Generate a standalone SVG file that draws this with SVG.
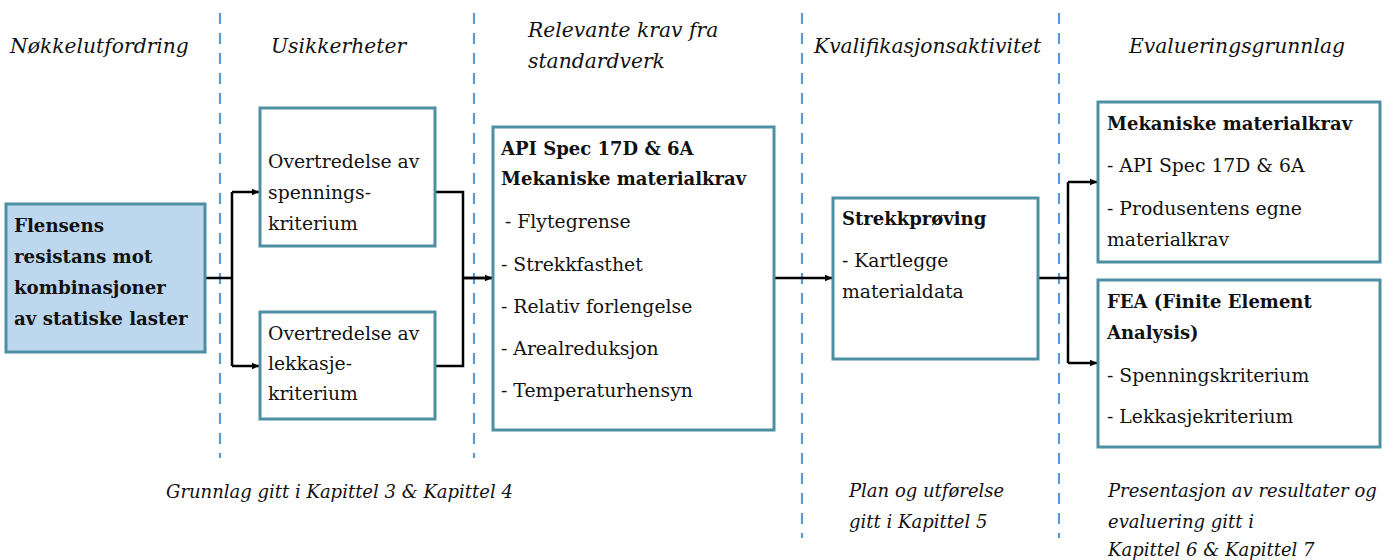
<svg xmlns="http://www.w3.org/2000/svg" width="1397" height="560" viewBox="0 0 1397 560">
<defs>
<marker id="arr" markerWidth="8" markerHeight="8" refX="7" refY="4" orient="auto" markerUnits="userSpaceOnUse">
<path d="M0,0.8 L7.5,4 L0,7.2 Z" fill="#000"/>
</marker>
<style>
.box{fill:#fff;stroke:#4f8fa3;stroke-width:3}
.key{fill:#bdd7ee;stroke:#4f8fa3;stroke-width:3}
.sep{stroke:#5b9bd5;stroke-width:2.2;stroke-dasharray:11 9;fill:none}
.con{stroke:#000;stroke-width:2.5;fill:none}
.h{font-family:"DejaVu Serif",serif;font-style:italic;font-size:20.3px;fill:#111}
.n{font-family:"DejaVu Serif",serif;font-size:18.8px;fill:#111}
.b{font-family:"DejaVu Serif",serif;font-weight:bold;font-size:18px;fill:#111}
.kb{font-family:"DejaVu Serif",serif;font-weight:bold;font-size:18.2px;fill:#111}
.f{font-family:"DejaVu Serif",serif;font-style:italic;font-size:18px;fill:#111}
</style>
</defs>
<rect width="1397" height="560" fill="#fff"/>
<g id="separators">
<line class="sep" x1="220" y1="13" x2="220" y2="458"/>
<line class="sep" x1="474" y1="13" x2="474" y2="458"/>
<line class="sep" x1="802" y1="13" x2="802" y2="538"/>
<line class="sep" x1="1059" y1="13" x2="1059" y2="538"/>
</g>
<g id="headings">
<text class="h" x="10" y="53">Nøkkelutfordring</text>
<text class="h" x="271" y="53">Usikkerheter</text>
<text class="h" x="528" y="37">Relevante krav fra</text>
<text class="h" x="528" y="68">standardverk</text>
<text class="h" x="814" y="53">Kvalifikasjonsaktivitet</text>
<text class="h" x="1129" y="53">Evalueringsgrunnlag</text>
</g>
<g id="footers">
<text class="f" x="166" y="498">Grunnlag gitt i Kapittel 3 &amp; Kapittel 4</text>
<text class="f" x="849" y="497">Plan og utførelse</text>
<text class="f" x="849" y="528">gitt i Kapittel 5</text>
<text class="f" x="1108" y="497">Presentasjon av resultater og</text>
<text class="f" x="1108" y="528">evaluering gitt i</text>
<text class="f" x="1108" y="556">Kapittel 6 &amp; Kapittel 7</text>
</g>
<g id="connectors">
<path class="con" d="M205,278 H232 M232,192 V366"/>
<path class="con" d="M232,192 H259" marker-end="url(#arr)"/>
<path class="con" d="M232,366 H259" marker-end="url(#arr)"/>
<path class="con" d="M435,192 H463 V366 H435 M463,278 H492"/>
<path class="con" d="M463,278 H492" marker-end="url(#arr)"/>
<path class="con" d="M774,278 H832" marker-end="url(#arr)"/>
<path class="con" d="M1038,278 H1068 M1068,182 V363"/>
<path class="con" d="M1068,182 H1097" marker-end="url(#arr)"/>
<path class="con" d="M1068,363 H1097" marker-end="url(#arr)"/>
</g>
<g id="n-flensens">
<rect class="key" x="6" y="204" width="199" height="148"/>
<text class="kb" x="14" y="232">Flensens</text>
<text class="kb" x="14" y="263">resistans mot</text>
<text class="kb" x="14" y="294">kombinasjoner</text>
<text class="kb" x="14" y="325">av statiske laster</text>
</g>
<g id="n-spenning">
<rect class="box" x="260" y="108" width="175" height="138"/>
<text class="n" x="268" y="168">Overtredelse av</text>
<text class="n" x="268" y="199">spennings-</text>
<text class="n" x="268" y="230">kriterium</text>
</g>
<g id="n-lekkasje">
<rect class="box" x="260" y="312" width="175" height="107"/>
<text class="n" x="268" y="340">Overtredelse av</text>
<text class="n" x="268" y="370">lekkasje-</text>
<text class="n" x="268" y="400">kriterium</text>
</g>
<g id="n-api">
<rect class="box" x="493" y="127" width="281" height="303"/>
<text class="b" x="501" y="155">API Spec 17D &amp; 6A</text>
<text class="b" x="501" y="185">Mekaniske materialkrav</text>
<text class="n" x="505" y="228">- Flytegrense</text>
<text class="n" x="501" y="271">- Strekkfasthet</text>
<text class="n" x="501" y="313">- Relativ forlengelse</text>
<text class="n" x="501" y="355">- Arealreduksjon</text>
<text class="n" x="501" y="397">- Temperaturhensyn</text>
</g>
<g id="n-strekk">
<rect class="box" x="833" y="198" width="205" height="161"/>
<text class="b" x="842" y="225">Strekkprøving</text>
<text class="n" x="842" y="267">- Kartlegge</text>
<text class="n" x="842" y="298">materialdata</text>
</g>
<g id="n-mek">
<rect class="box" x="1098" y="102" width="282" height="160"/>
<text class="b" x="1107" y="130">Mekaniske materialkrav</text>
<text class="n" x="1107" y="172">- API Spec 17D &amp; 6A</text>
<text class="n" x="1107" y="215">- Produsentens egne</text>
<text class="n" x="1107" y="246">materialkrav</text>
</g>
<g id="n-fea">
<rect class="box" x="1098" y="280" width="282" height="167"/>
<text class="b" x="1107" y="308">FEA (Finite Element</text>
<text class="b" x="1107" y="339">Analysis)</text>
<text class="n" x="1107" y="382">- Spenningskriterium</text>
<text class="n" x="1107" y="423">- Lekkasjekriterium</text>
</g>
</svg>
